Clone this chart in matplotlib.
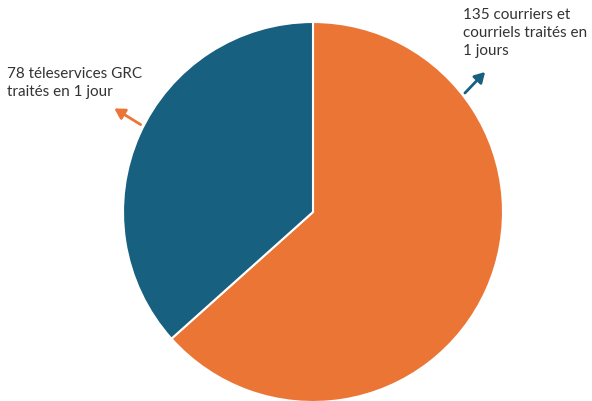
import matplotlib
matplotlib.use("Agg")
import matplotlib.pyplot as plt

# traitement des demandes
labels = ["135 courriers et\ncourriels traités en\n1 jours", "78 téleservices GRC\ntraités en 1 jour"]
values = [135, 78]
colors = ["#EB7534", "#17607F"]

plt.rcParams["font.family"] = ["Lato", "DejaVu Sans"]

W, H = 592, 401
fig = plt.figure(figsize=(W / 100, H / 100), dpi=100)

# pie: centre (313, 212) px, radius 190 px
cx, cy, r = 313, 212, 190
ax = fig.add_axes([(cx - r) / W, (H - cy - r) / H, 2 * r / W, 2 * r / H])
ax.pie(values, colors=colors, startangle=90, counterclock=False,
       wedgeprops=dict(edgecolor="white", linewidth=1.5))
ax.set_xlim(-1, 1)
ax.set_ylim(-1, 1)
ax.axis("off")

txt = "#333333"
fig.text(463 / W, 1 - 8 / H, labels[0], fontsize=11, color=txt,
         va="top", ha="left", linespacing=1.35)
fig.text(7 / W, 1 - 67 / H, labels[1], fontsize=11, color=txt,
         va="top", ha="left", linespacing=1.35)

# arrows (colour swapped with the slice they sit next to)
fig.add_artist(matplotlib.patches.FancyArrowPatch(
    (463 / W, 1 - 95 / H), (487 / W, 1 - 70 / H), transform=fig.transFigure,
    arrowstyle="-|>,head_length=6,head_width=3.5", color=colors[1], lw=2))
fig.add_artist(matplotlib.patches.FancyArrowPatch(
    (143 / W, 1 - 126 / H), (112 / W, 1 - 107 / H), transform=fig.transFigure,
    arrowstyle="-|>,head_length=6,head_width=3.5", color=colors[0], lw=2))

fig.savefig("out.png", dpi=100)
